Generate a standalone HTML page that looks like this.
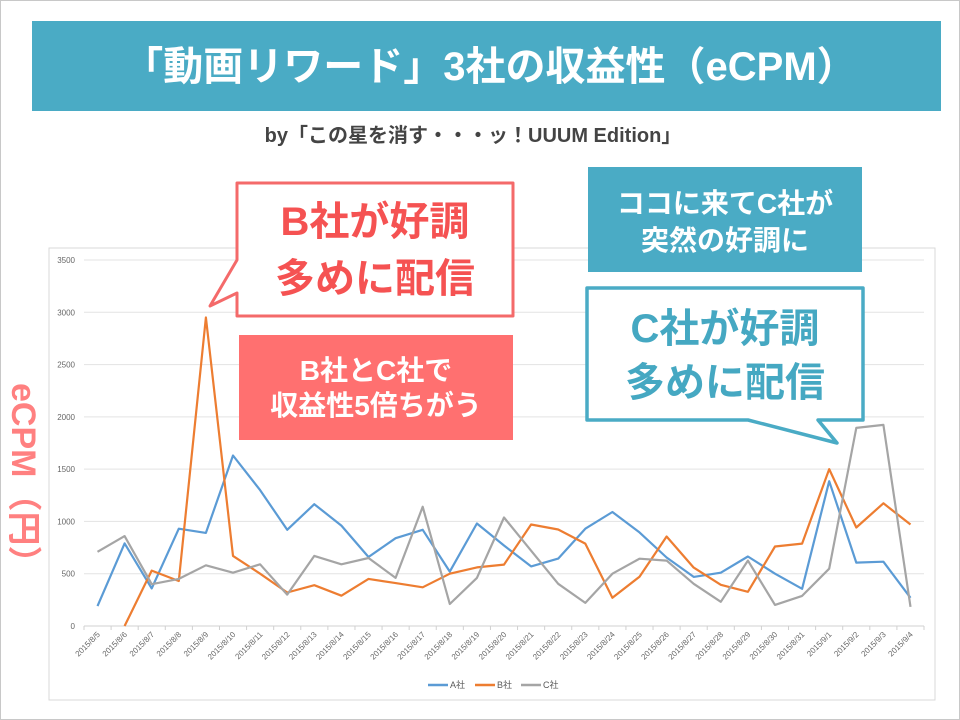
<!DOCTYPE html>
<html><head><meta charset="utf-8">
<style>
html,body{margin:0;padding:0;background:#fff;}
svg{display:block;font-family:"Liberation Sans","Noto Sans CJK JP",sans-serif;}
</style></head>
<body>
<svg id="slide" width="960" height="720" viewBox="0 0 960 720" xmlns="http://www.w3.org/2000/svg">
<rect x="0.5" y="0.5" width="959" height="719" fill="#fff" stroke="#c8c8c8"/>
<rect x="32" y="21" width="909" height="90" fill="#4aabc5"/>
<text x="490" y="80" text-anchor="middle" font-size="40" font-weight="bold" fill="#fff">「動画リワード」3社の収益性（eCPM）</text>
<text x="473" y="142" text-anchor="middle" font-size="20" font-weight="bold" fill="#444">by「この星を消す・・・ッ！UUUM Edition」</text>

<rect x="49" y="248" width="886" height="452" fill="#fff" stroke="#d9d9d9"/>
<g id="grid"></g>
<g id="series"></g>
<g id="xlabels"></g>

<text transform="translate(12,383) rotate(90)" font-size="34" font-weight="bold" fill="#ff8080">eCPM（円）</text>

<g font-size="9" fill="#595959">
<line x1="428" y1="685" x2="448" y2="685" stroke="#5b9bd5" stroke-width="2.5"/><text x="450" y="688">A社</text>
<line x1="475" y1="685" x2="495" y2="685" stroke="#ed7d31" stroke-width="2.5"/><text x="497" y="688">B社</text>
<line x1="521" y1="685" x2="541" y2="685" stroke="#a5a5a5" stroke-width="2.5"/><text x="543" y="688">C社</text>
</g>

<g>
<path d="M237,183 H513 V316 H237 V293 L210,306 L237,260 Z" fill="#fff" stroke="#f46a6a" stroke-width="3" stroke-linejoin="round"/>
<text x="375" y="235" text-anchor="middle" font-size="40" font-weight="bold" fill="#f55252">B社が好調</text>
<text x="375" y="292" text-anchor="middle" font-size="40" font-weight="bold" fill="#f55252">多めに配信</text>
</g>
<g>
<rect x="239" y="335" width="274" height="105" fill="#ff7070"/>
<text x="376" y="380" text-anchor="middle" font-size="28" font-weight="bold" fill="#fff">B社とC社で</text>
<text x="376" y="415" text-anchor="middle" font-size="28" font-weight="bold" fill="#fff">収益性5倍ちがう</text>
</g>
<g>
<rect x="588" y="167" width="274" height="105" fill="#4aabc5"/>
<text x="725" y="213" text-anchor="middle" font-size="28" font-weight="bold" fill="#fff">ココに来てC社が</text>
<text x="725" y="250" text-anchor="middle" font-size="28" font-weight="bold" fill="#fff">突然の好調に</text>
</g>
<g>
<path d="M587,288 H863 V420 H818 L837,443 L748,420 H587 Z" fill="#fff" stroke="#4aabc5" stroke-width="3.5" stroke-linejoin="round"/>
<text x="725" y="342" text-anchor="middle" font-size="40" font-weight="bold" fill="#45a8c2">C社が好調</text>
<text x="725" y="396" text-anchor="middle" font-size="40" font-weight="bold" fill="#45a8c2">多めに配信</text>
</g>
</svg>
<script>
const categories = ["2015/8/5","2015/8/6","2015/8/7","2015/8/8","2015/8/9","2015/8/10","2015/8/11","2015/8/12","2015/8/13","2015/8/14","2015/8/15","2015/8/16","2015/8/17","2015/8/18","2015/8/19","2015/8/20","2015/8/21","2015/8/22","2015/8/23","2015/8/24","2015/8/25","2015/8/26","2015/8/27","2015/8/28","2015/8/29","2015/8/30","2015/8/31","2015/9/1","2015/9/2","2015/9/3","2015/9/4"];
const seriesA = [190,790,360,930,890,1630,1300,920,1165,960,660,840,920,520,980,770,570,645,930,1090,895,655,470,510,665,500,356,1385,606,615,270];
const seriesB = [null,0,530,430,2950,670,500,320,390,290,450,410,370,500,560,587,971,923,788,270,471,856,558,394,327,760,788,1500,942,1173,971];
const seriesC = [710,860,400,450,580,510,590,300,670,590,650,460,1140,210,460,1038,720,404,221,500,644,625,404,231,625,202,288,548,1894,1923,183];
const yTicks = [0,500,1000,1500,2000,2500,3000,3500];
const NS = "http://www.w3.org/2000/svg";
const plotL = 84, plotR = 924, y0 = 626, yTop = 260, yMax = 3500;
const band = (plotR - plotL) / categories.length;
function xPos(i){ return plotL + band * (i + 0.5); }
function yPos(v){ return y0 - (v / yMax) * (y0 - yTop); }
function mk(tag, attrs, parent){ const e = document.createElementNS(NS, tag); for (const k in attrs) e.setAttribute(k, attrs[k]); parent.appendChild(e); return e; }
const grid = document.getElementById('grid');
yTicks.forEach(t => {
  const y = yPos(t);
  const l = mk('line', {x1: plotL, x2: plotR, y1: y, y2: y, stroke: t === 0 ? '#d0d0d0' : '#e3e3e3', 'stroke-width': 1}, grid);
  
  
  const tx = mk('text', {x: 75, y: y + 3, 'text-anchor': 'end', 'font-size': 8, fill: '#666'}, grid);
  
  
  tx.textContent = t;
});
for (let i = 0; i <= categories.length; i++) {
  const x = plotL + band * i;
  const tk = mk('line', {x1: x, x2: x, y1: y0, y2: y0 + 4, stroke: '#d0d0d0'}, grid);
  
  
}
const xl = document.getElementById('xlabels');
categories.forEach((c, i) => {
  const x = xPos(i) + 3, y = y0 + 9;
  const t = mk('text', {x: x, y: y, 'text-anchor': 'end', 'font-size': 8, fill: '#666', transform: `rotate(-45 ${x} ${y})`}, xl);
  
  
  t.textContent = c;
});
const sg = document.getElementById('series');
[[seriesA, '#5b9bd5', 'series-a-line'], [seriesB, '#ed7d31', 'series-b-line'], [seriesC, '#a5a5a5', 'series-c-line']].forEach(([vals, col, name]) => {
  let d = '', started = false;
  vals.forEach((v, i) => {
    if (v === null) { started = false; return; }
    d += (started ? 'L' : 'M') + xPos(i).toFixed(1) + ',' + yPos(v).toFixed(1);
    started = true;
  });
  const p = mk('path', {d: d, fill: 'none', stroke: col, 'stroke-width': 2.2, 'stroke-linejoin': 'round'}, sg);
  
  
});
</script>
</body></html>
